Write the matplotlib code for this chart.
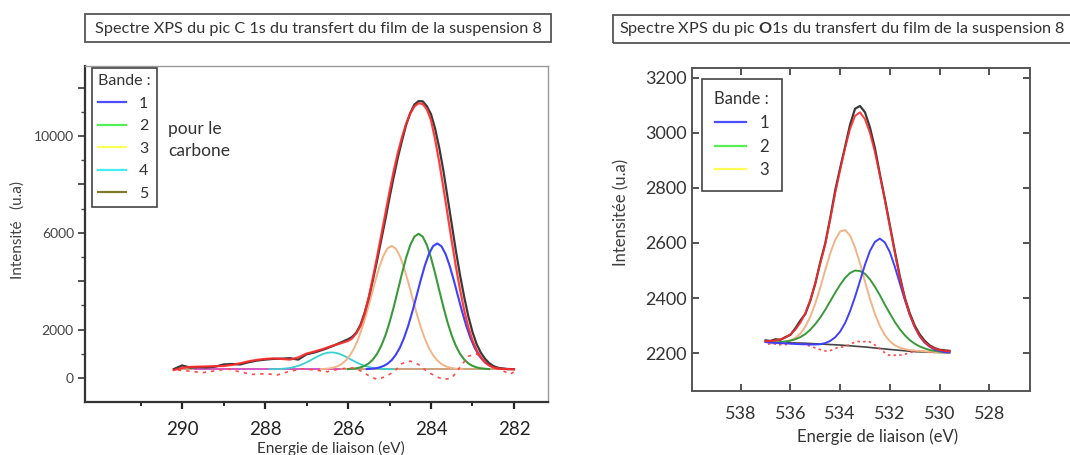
import matplotlib
matplotlib.use("Agg")
import matplotlib.pyplot as plt
from matplotlib.lines import Line2D
from matplotlib.patches import Rectangle

plt.rcParams['font.family'] = ['Lato', 'DejaVu Sans']
plt.rcParams['mathtext.fontset'] = 'custom'
plt.rcParams['mathtext.rm'] = 'Lato'
plt.rcParams['mathtext.bf'] = 'Lato:bold'

W, H = 1070, 455

# ---------------- Left panel : C 1s ----------------
c_title = "Spectre XPS du pic C 1s du transfert du film de la suspension 8"
c_xticks = [290, 288, 286, 284, 282]
c_yticks_labeled = [0, 2000, 6000, 10000]
c_yticks_major = [0, 2000, 4000, 6000, 8000, 10000, 12000]
c_legend_labels = ["1", "2", "3", "4", "5"]

c_env_x = [290.2, 290.0, 289.8, 289.6, 289.4, 289.2, 289.0, 288.8, 288.6, 288.4,
           288.2, 288.0, 287.8, 287.6, 287.4, 287.2, 287.0, 286.8, 286.6, 286.4,
           286.2, 286.0, 285.9, 285.8, 285.7, 285.6, 285.5, 285.4, 285.3, 285.2,
           285.1, 285.0, 284.9, 284.8, 284.7, 284.6, 284.5, 284.4, 284.3, 284.2,
           284.1, 284.0, 283.9, 283.8, 283.7, 283.6, 283.5, 283.4, 283.3, 283.2,
           283.1, 283.0, 282.9, 282.8, 282.7, 282.6, 282.5, 282.4, 282.3, 282.2,
           282.1, 282.0]
c_envelope = [330, 420, 460, 470, 480, 490, 495, 540, 610, 690,
              750, 790, 810, 790, 760, 850, 1010, 1100, 1200, 1320,
              1420, 1530, 1640, 1850, 2150, 2650, 3350, 4150, 5000, 5900,
              6800, 7700, 8550, 9300, 9950, 10500, 10930, 11220, 11350, 11320,
              11100, 10650, 9850, 8900, 7850, 6750, 5650, 4600, 3650, 2800,
              2100, 1550, 1150, 860, 650, 520, 440, 400, 380, 370,
              365, 362]
c_data = [370, 520, 430, 450, 440, 470, 560, 580, 560, 650,
          720, 760, 790, 800, 820, 760, 980, 1060, 1170, 1300,
          1450, 1600, 1700, 1880, 2200, 2700, 3300, 4050, 4850, 5700,
          6550, 7450, 8300, 9100, 9800, 10450, 10950, 11300, 11440, 11430,
          11230, 10900, 10300, 9500, 8550, 7450, 6350, 5250, 4250, 3350,
          2550, 1900, 1400, 1050, 800, 620, 500, 430, 400, 380,
          370, 365]

c_band1_x = [285.55, 285.45, 285.35, 285.25, 285.15, 285.05, 284.95, 284.85, 284.75,
             284.65, 284.55, 284.45, 284.35, 284.25, 284.15, 284.05, 283.95, 283.85,
             283.75, 283.65, 283.55, 283.45, 283.35, 283.25, 283.15, 283.05, 282.95,
             282.85, 282.75, 282.65, 282.55, 282.45, 282.35, 282.25, 282.15]
c_band1 = [370, 380, 400, 434, 493, 588, 736, 954, 1256, 1657, 2156, 2741, 3383, 4035,
           4638, 5128, 5448, 5560, 5448, 5128, 4638, 4035, 3383, 2741, 2156, 1657, 1256,
           954, 736, 588, 493, 434, 400, 380, 370]

c_band2_x = [286.0, 285.9, 285.8, 285.7, 285.6, 285.5, 285.4, 285.3, 285.2, 285.1,
             285.0, 284.9, 284.8, 284.7, 284.6, 284.5, 284.4, 284.3, 284.2, 284.1,
             284.0, 283.9, 283.8, 283.7, 283.6, 283.5, 283.4, 283.3, 283.2, 283.1,
             283.0, 282.9, 282.8, 282.7, 282.6]
c_band2 = [371, 382, 403, 440, 503, 606, 765, 1000, 1325, 1757, 2294, 2924, 3615, 4318,
           4967, 5495, 5840, 5960, 5840, 5495, 4967, 4318, 3615, 2924, 2294, 1757, 1325,
           1000, 765, 606, 503, 440, 403, 382, 371]

c_band3_x = [286.65, 286.55, 286.45, 286.35, 286.25, 286.15, 286.05, 285.95, 285.85,
             285.75, 285.65, 285.55, 285.45, 285.35, 285.25, 285.15, 285.05, 284.95,
             284.85, 284.75, 284.65, 284.55, 284.45, 284.35, 284.25, 284.15, 284.05,
             283.95, 283.85, 283.75, 283.65, 283.55, 283.45, 283.35, 283.25]
c_band3 = [370, 380, 399, 432, 490, 584, 729, 942, 1239, 1632, 2121, 2695, 3325, 3964,
           4555, 5037, 5350, 5460, 5350, 5037, 4555, 3964, 3325, 2695, 2121, 1632, 1239,
           942, 729, 584, 490, 432, 399, 380, 370]

c_band4_x = [287.9, 287.8, 287.7, 287.6, 287.5, 287.4, 287.3, 287.2, 287.1, 287.0,
             286.9, 286.8, 286.7, 286.6, 286.5, 286.4, 286.3, 286.2, 286.1, 286.0,
             285.9, 285.8, 285.7, 285.6, 285.5, 285.4, 285.3, 285.2, 285.1, 285.0, 284.9]
c_band4 = [363, 366, 371, 380, 395, 419, 455, 504, 569, 648, 738, 832, 920, 994, 1043,
           1060, 1043, 994, 920, 832, 738, 648, 569, 504, 455, 419, 395, 380, 371, 366, 363]

c_resid_x = [290.1, 289.8, 289.5, 289.2, 288.9, 288.6, 288.3, 288.0, 287.7, 287.4,
             287.1, 286.8, 286.5, 286.2, 285.9, 285.7, 285.5, 285.3, 285.1, 284.9,
             284.7, 284.5, 284.3, 284.1, 283.9, 283.7, 283.5, 283.3, 283.1, 282.9,
             282.7, 282.5, 282.3, 282.1, 282.0]
c_resid = [330, 280, 220, 300, 380, 250, 150, 180, 130, 280,
           380, 330, 260, 380, 420, 300, 100, -60, 60, 250,
           600, 700, 560, 280, 80, -60, 0, 450, 900, 1000,
           680, 420, 330, 150, 260]

c_base_x = [290.2, 282.0]
c_base = [360, 360]
c_band5_x = [289.7, 286.2]
c_band5 = [362, 362]

# ---------------- Right panel : O 1s ----------------
o_xticks = [538, 536, 534, 532, 530, 528]
o_yticks = [2200, 2400, 2600, 2800, 3000, 3200]
o_legend_labels = ["1", "2", "3"]

o_x = [537.0, 536.8, 536.6, 536.4, 536.2, 536.0, 535.8, 535.6, 535.4, 535.2,
       535.0, 534.8, 534.6, 534.4, 534.2, 534.0, 533.8, 533.6, 533.4, 533.2,
       533.0, 532.8, 532.6, 532.4, 532.2, 532.0, 531.8, 531.6, 531.4, 531.2,
       531.0, 530.8, 530.6, 530.4, 530.2, 530.0, 529.8, 529.6]
o_envelope = [2243, 2244, 2246, 2250, 2256, 2268, 2285, 2310, 2345, 2392,
              2455, 2525, 2595, 2685, 2780, 2865, 2945, 3015, 3062, 3075,
              3050, 3000, 2930, 2845, 2755, 2660, 2565, 2475, 2400, 2340,
              2295, 2262, 2240, 2225, 2216, 2211, 2208, 2206]
o_data = [2246, 2244, 2250, 2248, 2258, 2266, 2290, 2318, 2342, 2390,
          2452, 2530, 2598, 2690, 2790, 2872, 2950, 3030, 3088, 3098,
          3075, 3020, 2945, 2850, 2760, 2665, 2570, 2480, 2402, 2345,
          2300, 2268, 2245, 2228, 2218, 2212, 2210, 2208]
o_band1 = [2240, 2238, 2237, 2236, 2235, 2234, 2233, 2232, 2232, 2231,
           2231, 2232, 2236, 2244, 2257, 2278, 2309, 2352, 2404, 2462,
           2521, 2571, 2604, 2616, 2602, 2567, 2514, 2454, 2394, 2339,
           2295, 2261, 2238, 2223, 2213, 2208, 2204, 2202]
o_band2 = [2240, 2240, 2239, 2240, 2242, 2245, 2250, 2258, 2269, 2285,
           2305, 2329, 2357, 2388, 2419, 2448, 2473, 2491, 2500, 2498,
           2488, 2468, 2441, 2410, 2376, 2344, 2313, 2287, 2265, 2247,
           2234, 2224, 2217, 2211, 2208, 2205, 2203, 2202]
o_band3 = [2240, 2239, 2239, 2239, 2241, 2246, 2255, 2271, 2296, 2332,
           2380, 2438, 2501, 2562, 2611, 2642, 2647, 2627, 2584, 2525,
           2460, 2397, 2342, 2298, 2265, 2243, 2228, 2220, 2214, 2211,
           2209, 2208, 2206, 2205, 2204, 2203, 2202, 2201]
o_base_x = [536.93, 535.5, 534.0, 533.0, 532.0, 531.0, 529.65]
o_base = [2239, 2236, 2229, 2222, 2213, 2205, 2201]
o_resid_x = [536.9, 536.7, 536.5, 536.3, 536.1, 535.9, 535.7, 535.5, 535.3, 535.1,
             534.9, 534.7, 534.5, 534.3, 534.1, 533.9, 533.7, 533.5, 533.3, 533.1,
             532.9, 532.7, 532.5, 532.3, 532.1, 531.9, 531.7, 531.5, 531.3, 531.1,
             530.9, 530.7, 530.5, 530.3, 530.1, 529.9, 529.7]
o_resid = [2232, 2236, 2228, 2233, 2230, 2236, 2234, 2232, 2228, 2222,
           2215, 2210, 2206, 2212, 2220, 2222, 2228, 2236, 2242, 2240,
           2244, 2236, 2222, 2208, 2194, 2190, 2194, 2192, 2198, 2204,
           2206, 2208, 2204, 2200, 2205, 2202, 2206]

# colours
BLUE = '#3f3fff'
GREEN = '#3a9a3a'
TAN = '#f2b487'
CYAN = '#3ccfcf'
RED = '#ff2a2a'
DATA = '#3a3a3a'
LEG_COLORS = ['#4d4dff', '#55ee55', '#ffff55', '#44eeee', '#7d7d2a']


def fx(px):
    return px / W


def fy(py):
    return 1 - py / H


fig = plt.figure(figsize=(W / 100, H / 100), dpi=100)

# ---------- left axes ----------
axL = fig.add_axes([fx(85), fy(402), (548 - 85) / W, (402 - 66) / H])
axL.plot(c_base_x, c_base, color='#c99a74', lw=1.3, zorder=2)
axL.plot(c_band5_x, c_band5, color='#d844d8', lw=1.1, zorder=2)
axL.plot(c_band4_x, c_band4, color=CYAN, lw=1.3, zorder=3)
axL.plot(c_band3_x, c_band3, color=TAN, lw=1.4, zorder=3)
axL.plot(c_band2_x, c_band2, color=GREEN, lw=1.5, zorder=3)
axL.plot(c_band1_x, c_band1, color=BLUE, lw=1.5, zorder=3)
axL.plot(c_resid_x, c_resid, color='#ff4a4a', lw=1.2, ls=(0, (2, 3)), zorder=3)
axL.plot(c_env_x, c_data, color=DATA, lw=1.6, zorder=4)
axL.plot(c_env_x, c_envelope, color=RED, lw=1.6, alpha=0.9, zorder=5)

axL.set_xlim(292.34, 281.18)
axL.set_ylim(-990, 12890)
axL.set_xticks(c_xticks)
axL.set_xticks([291, 289, 287, 285, 283], minor=True)
axL.set_yticks(c_yticks_major)
axL.set_yticklabels([str(v) if v in c_yticks_labeled else '' for v in c_yticks_major])
axL.set_yticks([1000, 3000, 5000, 7000, 9000, 11000], minor=True)
axL.tick_params(axis='x', which='major', direction='out', length=5, width=1.6,
                labelsize=13.5, pad=9, colors='#222222')
axL.tick_params(axis='x', which='minor', direction='out', length=3, width=1.2)
axL.tick_params(axis='y', which='major', direction='out', length=5, width=1.3,
                labelsize=10, colors='#444444', pad=3)
axL.tick_params(axis='y', which='minor', direction='out', length=3, width=1.0, colors='#444444')
for s in ['left', 'bottom']:
    axL.spines[s].set_color('#333333')
    axL.spines[s].set_linewidth(1.6)
for s in ['top', 'right']:
    axL.spines[s].set_color('#9a9a9a')
    axL.spines[s].set_linewidth(1.0)

handlesL = [Line2D([], [], color=c, lw=1.6) for c in LEG_COLORS]
legL = axL.legend(handlesL, c_legend_labels, title='Bande :', loc='upper left',
                  bbox_to_anchor=((92 - 85) / 463, (402 - 68) / 336),
                  frameon=True, fancybox=False, edgecolor='#444444', framealpha=1,
                  fontsize=11.5, title_fontsize=11.5, handlelength=1.75, handletextpad=0.8,
                  labelspacing=0.52, borderpad=0.4, borderaxespad=0, alignment='left')
legL.get_frame().set_linewidth(1.2)
for t in legL.get_texts():
    t.set_color('#333333')
legL.get_title().set_color('#333333')

axL.text((168 - 85) / 463, (402 - 140) / 336, "pour le\ncarbone", transform=axL.transAxes,
         ha='left', va='center', fontsize=12.5, color='#333333', linespacing=1.45)

# ---------- right axes ----------
axR = fig.add_axes([fx(692), fy(391), (1030 - 692) / W, (391 - 68) / H])
axR.plot(o_base_x, o_base, color='#444444', lw=1.2, zorder=2)
axR.plot(o_resid_x, o_resid, color='#ff4a4a', lw=1.2, ls=(0, (1.5, 2)), zorder=3)
axR.plot(o_x, o_band3, color=TAN, lw=1.4, zorder=3)
axR.plot(o_x, o_band2, color=GREEN, lw=1.4, zorder=3)
axR.plot(o_x, o_band1, color=BLUE, lw=1.4, zorder=3)
axR.plot(o_x, o_data, color=DATA, lw=1.6, zorder=4)
axR.plot(o_x, o_envelope, color=RED, lw=1.4, alpha=0.9, zorder=5)

axR.set_xlim(539.96, 526.36)
axR.set_ylim(2062, 3236)
axR.set_xticks(o_xticks)
axR.set_yticks(o_yticks)
axR.tick_params(axis='both', which='major', direction='in', length=5, width=1.2,
                labelsize=13, colors='#333333', top=True, right=True)
axR.tick_params(axis='x', pad=11)
axR.tick_params(axis='y', pad=4)
for s in axR.spines.values():
    s.set_color('#555555')
    s.set_linewidth(1.4)

handlesR = [Line2D([], [], color=c, lw=1.6) for c in LEG_COLORS[:3]]
legR = axR.legend(handlesR, o_legend_labels, title='Bande :', loc='upper left',
                  bbox_to_anchor=((702 - 692) / 338, (391 - 79) / 323),
                  frameon=True, fancybox=False, edgecolor='#444444', framealpha=1,
                  fontsize=12, title_fontsize=12, handlelength=1.85, handletextpad=0.8,
                  labelspacing=0.45, borderpad=0.75, borderaxespad=0, alignment='center')
legR.get_frame().set_linewidth(1.2)
for t in legR.get_texts():
    t.set_color('#333333')
legR.get_title().set_color('#333333')

# ---------- titles (boxed) ----------
fig.add_artist(Rectangle((fx(85), fy(42)), (551 - 85) / W, 28 / H, transform=fig.transFigure,
                         fill=False, edgecolor='#555555', lw=1.3))
fig.text(fx(318), fy(28.5), c_title, ha='center', va='center', fontsize=11.7, color='#333333')

fig.add_artist(Rectangle((fx(613), fy(43)), (1080 - 613) / W, 28 / H, transform=fig.transFigure,
                         fill=False, edgecolor='#555555', lw=1.3))
fig.text(fx(619), fy(29.5),
         r"Spectre XPS du pic $\mathbf{O}$1s du transfert du film de la suspension 8",
         ha='left', va='center', fontsize=11.7, color='#333333')

# ---------- axis labels ----------
fig.text(fx(331), fy(448), "Energie de liaison (eV)", ha='center', va='center',
         fontsize=11, color='#333333')
fig.text(fx(878), fy(437), "Energie de liaison (eV)", ha='center', va='center',
         fontsize=12, color='#333333')
fig.text(fx(18), fy(230), "Intensité   (u.a)", ha='center', va='center', rotation=90,
         fontsize=11, color='#404040')
fig.text(fx(621), fy(212), "Intensitée (u.a)", ha='center', va='center', rotation=90,
         fontsize=12, color='#404040')

fig.savefig("out.png", dpi=100)
